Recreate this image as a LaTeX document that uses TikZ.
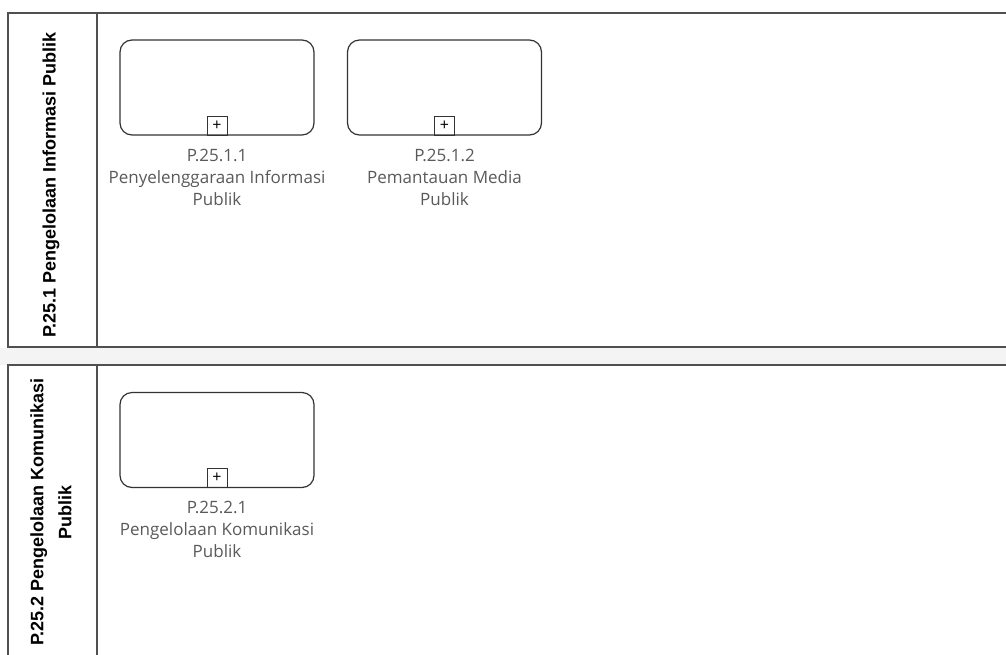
\documentclass[tikz,border=0pt]{standalone}
\usepackage{fontspec}
\setmainfont{Open Sans}
\newfontfamily\hdrfont{Liberation Sans}
\definecolor{laneline}{HTML}{505050}
\definecolor{boxline}{HTML}{333333}
\definecolor{lbltext}{HTML}{5A5A5A}
\definecolor{gapfill}{HTML}{F4F4F4}
\tikzset{
  lanebox/.style={draw=laneline, line width=1.4pt},
  header/.style={rotate=90, align=center, font=\hdrfont\bfseries\fontsize{18}{28}\selectfont, text=black, inner sep=0pt},
  task/.style={draw=boxline, line width=1.2pt, rounded corners=12pt, minimum width=194pt, minimum height=95pt, fill=white, inner sep=0pt},
  plusbox/.style={draw=boxline, line width=1pt, minimum width=20pt, minimum height=19pt, inner sep=0pt, font=\fontsize{16}{16}\selectfont},
  lbl/.style={align=center, text=lbltext, font=\fontsize{17}{22}\selectfont, inner sep=0pt}
}
\begin{document}
\begin{tikzpicture}[x=1pt,y=-1pt]
\useasboundingbox (0,0) rectangle (1006,654);
\clip (0,0) rectangle (1006,654);
\fill[white] (0,0) rectangle (1006,654);
\fill[gapfill] (0,348) rectangle (1006,365);
% lane 1
\draw[lanebox] (1012,13) -- (8,13) -- (8,347) -- (1012,347);
\draw[lanebox] (97,13) -- (97,347);
% lane 2
\draw[lanebox] (1012,365) -- (8,365) -- (8,660);
\draw[lanebox] (97,365) -- (97,660);
\node[header] (h1) at (51,185) {P.25.1 Pengelolaan Informasi Publik};
\node[header] (h2) at (51,512) {P.25.2 Pengelolaan Komunikasi\\Publik};
% tasks
\node[task] (t1) at (217,87.5) {};
\node[plusbox, anchor=south] (p1) at (t1.south) {+};
\node[lbl, anchor=north] (l1) at (217,148.5) {P.25.1.1\\Penyelenggaraan Informasi\\Publik};
\node[task] (t2) at (444.5,87.5) {};
\node[plusbox, anchor=south] (p2) at (t2.south) {+};
\node[lbl, anchor=north] (l2) at (444.5,148.5) {P.25.1.2\\Pemantauan Media\\Publik};
\node[task] (t3) at (217,440) {};
\node[plusbox, anchor=south] (p3) at (t3.south) {+};
\node[lbl, anchor=north] (l3) at (217,500.5) {P.25.2.1\\Pengelolaan Komunikasi\\Publik};
\end{tikzpicture}
\end{document}
